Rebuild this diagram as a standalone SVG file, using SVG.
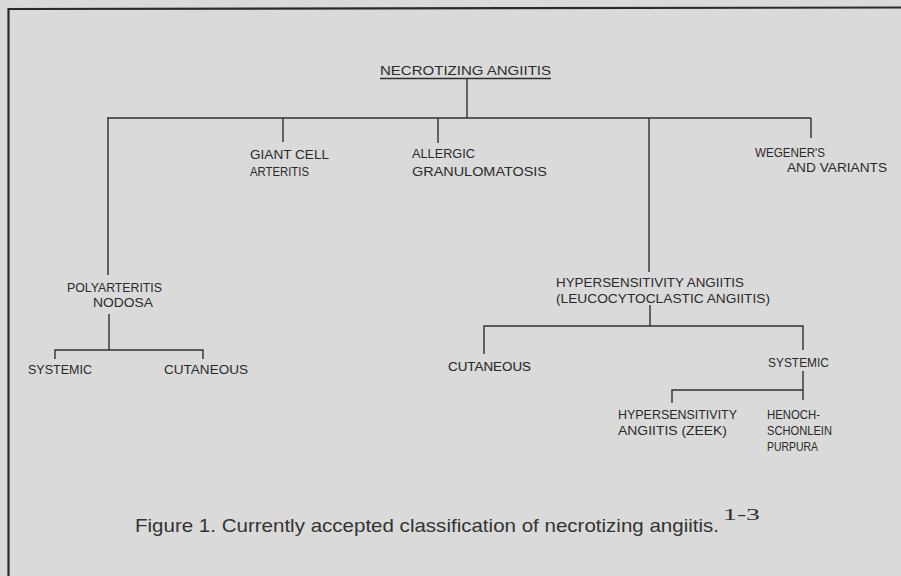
<svg xmlns="http://www.w3.org/2000/svg" width="901" height="576" viewBox="0 0 901 576">
<style>
.t{font-family:"Liberation Sans",Arial,sans-serif;font-size:13px;fill:#2a2a2a;}
.c{font-family:"Liberation Sans",Arial,sans-serif;font-size:19px;fill:#333;}
.s{font-family:"Liberation Serif","Times New Roman",serif;font-size:16px;fill:#333;}
.l{stroke:#2f2f2f;stroke-width:1.4;fill:none;}
</style>
<rect x="0" y="0" width="901" height="576" fill="#dadada"/>
<g id="frame">
<line x1="8.5" y1="9" x2="901" y2="7.5" stroke="#2a2a2a" stroke-width="2.2"/>
<line x1="8.5" y1="8" x2="8.5" y2="576" stroke="#2a2a2a" stroke-width="2.2"/>
</g>
<g id="connectors" class="l">
<line x1="380" y1="78.5" x2="551" y2="78.5"/>
<line x1="467" y1="79" x2="467" y2="118"/>
<line x1="107" y1="118" x2="811" y2="118"/>
<line x1="108" y1="118" x2="108" y2="275"/>
<line x1="283" y1="118" x2="283" y2="142"/>
<line x1="438" y1="118" x2="438" y2="143"/>
<line x1="649" y1="118" x2="649" y2="272"/>
<line x1="811" y1="118" x2="811" y2="138"/>
<line x1="109" y1="314" x2="109" y2="350"/>
<polyline points="55,359 55,350 203,350 203,359"/>
<line x1="650" y1="305" x2="650" y2="326"/>
<polyline points="484,354 484,326 803,326 803,350"/>
<line x1="803" y1="371" x2="803" y2="400"/>
<polyline points="672,403 672,390 803,390"/>
</g>
<g id="n-root"><text class="t" x="380" y="75" textLength="171" lengthAdjust="spacingAndGlyphs">NECROTIZING ANGIITIS</text></g>
<g id="n-giant"><text class="t" x="250" y="159" textLength="79" lengthAdjust="spacingAndGlyphs">GIANT CELL</text><text class="t" x="250" y="176" textLength="59" lengthAdjust="spacingAndGlyphs">ARTERITIS</text></g>
<g id="n-allergic"><text class="t" x="412" y="158" textLength="63" lengthAdjust="spacingAndGlyphs">ALLERGIC</text><text class="t" x="412" y="176" textLength="135" lengthAdjust="spacingAndGlyphs">GRANULOMATOSIS</text></g>
<g id="n-wegener"><text class="t" x="755" y="157" textLength="70" lengthAdjust="spacingAndGlyphs">WEGENER'S</text><text class="t" x="787" y="172" textLength="100" lengthAdjust="spacingAndGlyphs">AND VARIANTS</text></g>
<g id="n-polyarteritis"><text class="t" x="67" y="292" textLength="95" lengthAdjust="spacingAndGlyphs">POLYARTERITIS</text><text class="t" x="93" y="307" textLength="60" lengthAdjust="spacingAndGlyphs">NODOSA</text></g>
<g id="n-pan-systemic"><text class="t" x="28" y="374" textLength="64" lengthAdjust="spacingAndGlyphs">SYSTEMIC</text></g>
<g id="n-pan-cutaneous"><text class="t" x="164" y="374" textLength="84" lengthAdjust="spacingAndGlyphs">CUTANEOUS</text></g>
<g id="n-hypersensitivity"><text class="t" x="556" y="287" textLength="188" lengthAdjust="spacingAndGlyphs">HYPERSENSITIVITY ANGIITIS</text><text class="t" x="556" y="303" textLength="214" lengthAdjust="spacingAndGlyphs">(LEUCOCYTOCLASTIC ANGIITIS)</text></g>
<g id="n-ha-cutaneous"><text class="t" x="448" y="371" textLength="83" lengthAdjust="spacingAndGlyphs" stroke="#2a2a2a" stroke-width="0.12">CUTANEOUS</text></g>
<g id="n-ha-systemic"><text class="t" x="768" y="367" textLength="61" lengthAdjust="spacingAndGlyphs">SYSTEMIC</text></g>
<g id="n-zeek"><text class="t" x="618" y="419" textLength="119" lengthAdjust="spacingAndGlyphs">HYPERSENSITIVITY</text><text class="t" x="618" y="435" textLength="109" lengthAdjust="spacingAndGlyphs">ANGIITIS (ZEEK)</text></g>
<g id="n-henoch"><text class="t" x="767" y="419" textLength="53" lengthAdjust="spacingAndGlyphs">HENOCH-</text><text class="t" x="767" y="435" textLength="65" lengthAdjust="spacingAndGlyphs">SCHONLEIN</text><text class="t" x="767" y="451" textLength="51" lengthAdjust="spacingAndGlyphs">PURPURA</text></g>
<g id="caption"><text class="c" x="135" y="532" textLength="584" lengthAdjust="spacingAndGlyphs">Figure 1. Currently accepted classification of necrotizing angiitis.</text><text class="s" x="723" y="520" textLength="37" lengthAdjust="spacingAndGlyphs">1-3</text></g>
</svg>
